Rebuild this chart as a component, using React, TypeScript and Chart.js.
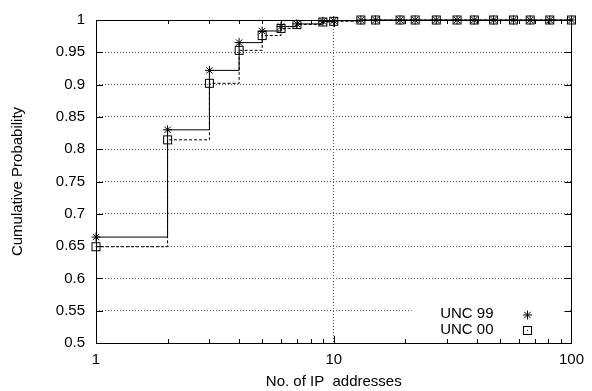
import React, { useEffect, useRef } from 'react';
import { Chart, registerables } from 'chart.js';
Chart.register(...registerables);

const xValues = [1, 2, 3, 4, 5, 6, 7, 9, 10, 13, 15, 19, 22, 27, 33, 39, 47, 57, 67, 81, 100];
const unc99 = [0.664, 0.830, 0.922, 0.965, 0.983, 0.990, 0.994, 0.998, 0.999, 1, 1, 1, 1, 1, 1, 1, 1, 1, 1, 1, 1];
const unc00 = [0.649, 0.8145, 0.902, 0.953, 0.976, 0.987, 0.993, 0.997, 0.998, 1, 1, 1, 1, 1, 1, 1, 1, 1, 1, 1, 1];
const yTicks = [0.5, 0.55, 0.6, 0.65, 0.7, 0.75, 0.8, 0.85, 0.9, 0.95, 1];
const xTicks = [1, 10, 100];
const xMinorTicks = [2, 3, 4, 5, 6, 7, 8, 9, 20, 30, 40, 50, 60, 70, 80, 90];
const seriesNames = ['UNC 99', 'UNC 00'];

const FONT = "'Liberation Sans', Arial, Helvetica, sans-serif";

function makeSquareDot(): HTMLCanvasElement {
  const c = document.createElement('canvas');
  c.width = 11; c.height = 11;
  const g = c.getContext('2d')!;
  g.strokeStyle = '#000';
  g.lineWidth = 1;
  g.strokeRect(1.5, 1.5, 8, 8);
  g.fillStyle = '#000';
  g.fillRect(5, 5, 1, 1);
  return c;
}

function drawStar(ctx: CanvasRenderingContext2D, x: number, y: number, r: number) {
  ctx.beginPath();
  ctx.moveTo(x, y - r); ctx.lineTo(x, y + r);
  ctx.moveTo(x - r, y); ctx.lineTo(x + r, y);
  const d = r * 0.7071;
  ctx.moveTo(x - d, y - d); ctx.lineTo(x + d, y + d);
  ctx.moveTo(x - d, y + d); ctx.lineTo(x + d, y - d);
  ctx.stroke();
}

const framePlugin = {
  id: 'frame',
  beforeDatasetsDraw(chart: any) {
    const { ctx, chartArea: a } = chart;
    ctx.save();
    ctx.fillStyle = '#fff';
    ctx.fillRect(a.right - 160, a.bottom - 40, 157, 36);
    ctx.restore();
  },
  afterDraw(chart: any) {
    const { ctx, chartArea: a, scales } = chart;
    const xs = scales.x, ys = scales.y;
    ctx.save();
    ctx.strokeStyle = '#000';
    ctx.lineWidth = 1;
    ctx.setLineDash([]);
    ctx.strokeRect(Math.round(a.left) + 0.5, Math.round(a.top) + 0.5, Math.round(a.right - a.left), Math.round(a.bottom - a.top));
    ctx.beginPath();
    for (const v of xMinorTicks) {
      const px = Math.round(xs.getPixelForValue(v)) + 0.5;
      ctx.moveTo(px, a.bottom); ctx.lineTo(px, a.bottom - 4);
      ctx.moveTo(px, a.top); ctx.lineTo(px, a.top + 4);
    }
    for (const v of xTicks) {
      const px = Math.round(xs.getPixelForValue(v)) + 0.5;
      ctx.moveTo(px, a.bottom); ctx.lineTo(px, a.bottom - 7);
      ctx.moveTo(px, a.top); ctx.lineTo(px, a.top + 7);
    }
    for (const v of yTicks) {
      const py = Math.round(ys.getPixelForValue(v)) + 0.5;
      ctx.moveTo(a.left, py); ctx.lineTo(a.left + 7, py);
      ctx.moveTo(a.right, py); ctx.lineTo(a.right - 7, py);
    }
    ctx.stroke();

    // legend
    ctx.font = `15px ${FONT}`;
    ctx.fillStyle = '#000';
    ctx.textAlign = 'right';
    ctx.textBaseline = 'middle';
    const lx = a.right - 78;
    const mx = a.right - 44;
    const y1 = a.bottom - 29;
    const y2 = a.bottom - 13;
    ctx.fillText(seriesNames[0], lx, y1);
    ctx.fillText(seriesNames[1], lx, y2);
    drawStar(ctx, mx, y1 + 1, 4.5);
    ctx.strokeRect(Math.round(mx) - 3.5, Math.round(y2) - 3.5, 8, 8);
    ctx.fillRect(Math.round(mx), Math.round(y2), 1, 1);
    ctx.restore();
  },
};

export default function App() {
  const ref = useRef<HTMLCanvasElement>(null);
  useEffect(() => {
    document.body.style.margin = '0';
    const sq = makeSquareDot();
    const chart = new Chart(ref.current!, {
      type: 'line',
      data: {
        datasets: [
          {
            label: seriesNames[0],
            data: xValues.map((x, i) => ({ x, y: unc99[i] })),
            borderColor: '#000',
            borderWidth: 1,
            stepped: 'before',
            pointStyle: 'star',
            pointRadius: 4.5,
            pointBorderColor: '#000',
            pointBorderWidth: 1,
            pointBackgroundColor: 'transparent',
            clip: false,
          } as any,
          {
            label: seriesNames[1],
            data: xValues.map((x, i) => ({ x, y: unc00[i] })),
            borderColor: '#000',
            borderWidth: 1,
            borderDash: [3, 2],
            stepped: 'before',
            pointStyle: sq,
            pointRadius: 5,
            clip: false,
          } as any,
        ],
      },
      options: {
        animation: false,
        responsive: true,
        maintainAspectRatio: false,
        layout: { padding: { top: 16, right: 17, left: 0, bottom: 0 } },
        plugins: { legend: { display: false }, tooltip: { enabled: false } },
        scales: {
          x: {
            type: 'logarithmic',
            min: 1,
            max: 100,
            afterBuildTicks: (s: any) => { s.ticks = xTicks.map((v) => ({ value: v })); },
            afterFit: (s: any) => { s.height = 48; },
            ticks: {
              color: '#000',
              font: { family: FONT, size: 15 },
              padding: 8,
              maxRotation: 0,
              autoSkip: false,
              callback: (v: any) => String(v),
            },
            grid: {
              drawTicks: false,
              color: (c: any) => (c.tick && c.tick.value === 10 ? '#555' : 'rgba(0,0,0,0)'),
              lineWidth: 1,
            },
            border: { display: false, dash: [1, 2] },
            title: {
              display: true,
              text: 'No. of IP  addresses',
              color: '#000',
              font: { family: FONT, size: 15 },
              padding: { top: 0, bottom: 0 },
            },
          },
          y: {
            min: 0.5,
            max: 1,
            afterBuildTicks: (s: any) => { s.ticks = yTicks.map((v) => ({ value: v })); },
            afterFit: (s: any) => { s.width = 96; },
            ticks: {
              color: '#000',
              font: { family: FONT, size: 15 },
              padding: 11,
              autoSkip: false,
              callback: (v: any) => String(+Number(v).toFixed(2)),
            },
            grid: {
              drawTicks: false,
              color: (c: any) => (c.tick && c.tick.value > 0.5 && c.tick.value < 1 ? '#555' : 'rgba(0,0,0,0)'),
              lineWidth: 1,
            },
            border: { display: false, dash: [1, 2] },
            title: {
              display: true,
              text: 'Cumulative Probability',
              color: '#000',
              font: { family: FONT, size: 15 },
              padding: { top: 9, bottom: 0 },
            },
          },
        },
      },
      plugins: [framePlugin],
    });
    return () => chart.destroy();
  }, []);
  return (
    <div style={{ position: 'fixed', left: 0, top: 0, width: 592, height: 391 }}>
      <canvas ref={ref} />
    </div>
  );
}
